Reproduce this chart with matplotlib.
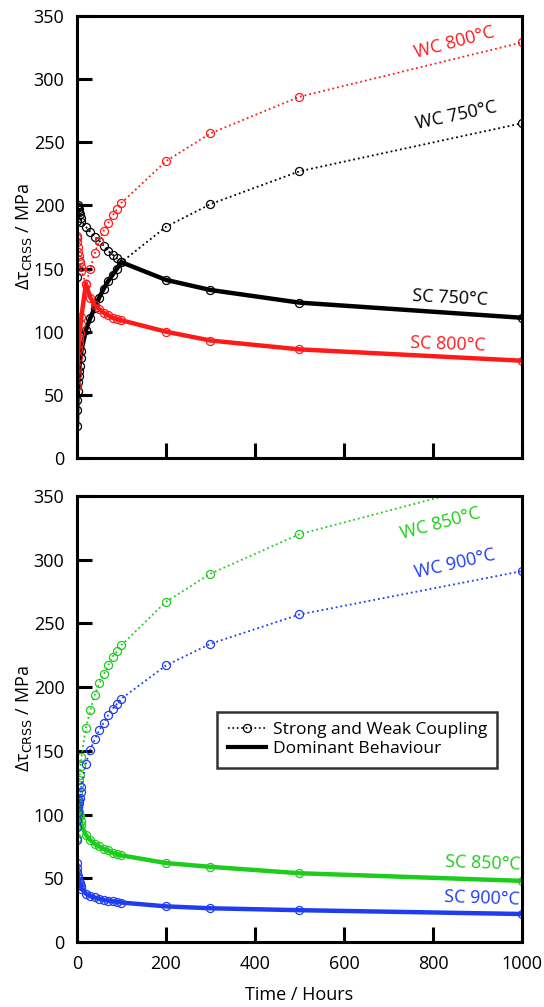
import numpy as np
import matplotlib
matplotlib.use('Agg')
import matplotlib.pyplot as plt
from matplotlib.lines import Line2D

plt.rcParams['font.family'] = ['Open Sans', 'DejaVu Sans']

# time points (hours)
hours = [0.1, 0.5, 1, 2, 3, 4, 5, 6, 8, 10, 20, 30, 40, 50, 60, 70, 80, 90, 100,
         200, 300, 500, 1000]

# weak coupling (WC) and strong coupling (SC), MPa
wc_750 = [25, 38, 46, 53, 60, 65, 69, 73, 79, 85, 101, 111, 119, 127, 134, 140, 145,
          150, 155, 183, 201, 227, 265]
sc_750 = [143, 188, 198, 200, 199, 197, 195, 193, 190, 187, 183, 179, 175, 172, 168,
          164, 161, 158, 155, 141, 133, 123, 111]
wc_800 = [57, 66, 72, 80, 86, 91, 95, 99, 106, 112, 138, 150, 162, 172, 180, 186, 192,
          197, 202, 235, 257, 286, 329]
sc_800 = [176, 174, 171, 167, 163, 160, 157, 155, 151, 148, 138, 127, 121, 118, 115,
          113, 111, 110, 109, 100, 93, 86, 77]
wc_850 = [82, 95, 103, 112, 118, 123, 127, 131, 138, 145, 168, 182, 194, 203, 210, 217,
          224, 228, 233, 267, 289, 320, 366]
sc_850 = [110, 109, 108, 106, 104, 102, 100, 99, 95, 92, 84, 80, 77, 75, 73, 72, 70,
          69, 68, 62, 59, 54, 48]
wc_900 = [80, 90, 96, 102, 106, 109, 111, 113, 118, 122, 140, 151, 159, 166, 172, 178,
          183, 187, 191, 217, 234, 257, 291]
sc_900 = [62, 58, 55, 52, 50, 48, 47, 46, 44, 42, 38, 36, 35, 34, 33, 32.5, 32, 31.5,
          31, 28, 26.5, 25, 22]

RED = '#ff1a1a'
BLACK = '#000000'
GREEN = '#1ecc1e'
BLUE = '#1f3cf0'

fig = plt.figure(figsize=(5.44, 10.07), dpi=100)
ax1 = fig.add_axes([0.1415, 0.5452, 0.818, 0.439])
ax2 = fig.add_axes([0.1415, 0.0645, 0.818, 0.443])


def draw_pair(ax, wc, sc, col):
    ax.plot(hours, wc, ':', color=col, lw=1.3, marker='o', ms=5.8, mfc='none',
            mew=0.9)
    ax.plot(hours, sc, ':', color=col, lw=1.3, marker='o', ms=5.8, mfc='none',
            mew=0.9)
    ax.plot(hours, np.minimum(wc, sc), '-', color=col, lw=3.2,
            solid_capstyle='butt')


draw_pair(ax1, wc_750, sc_750, BLACK)
draw_pair(ax1, wc_800, sc_800, RED)
draw_pair(ax2, wc_850, sc_850, GREEN)
draw_pair(ax2, wc_900, sc_900, BLUE)

for ax in (ax1, ax2):
    ax.set_xlim(0, 1000)
    ax.set_ylim(0, 350)
    ax.set_yticks(np.arange(0, 351, 50))
    ax.set_xticks(np.arange(0, 1001, 200))
    ax.tick_params(axis='both', direction='in', length=11, width=2.2,
                   labelsize=13, pad=9)
    for sp in ax.spines.values():
        sp.set_linewidth(2.2)
    ax.set_ylabel('Δτ$_{\\mathrm{CRSS}}$ / MPa', fontsize=13, labelpad=0)

ax1.tick_params(axis='x', labelbottom=False)
ax2.set_xlabel('Time / Hours', fontsize=13, labelpad=10)

fs = 13
ax1.text(849, 329, 'WC 800°C', color=RED, fontsize=fs, rotation=15,
         ha='center', va='center')
ax1.text(852, 271, 'WC 750°C', color=BLACK, fontsize=fs, rotation=12,
         ha='center', va='center')
ax1.text(838, 127, 'SC 750°C', color=BLACK, fontsize=fs, rotation=-3,
         ha='center', va='center')
ax1.text(834, 90, 'SC 800°C', color=RED, fontsize=fs, rotation=-2,
         ha='center', va='center')
ax2.text(816, 328, 'WC 850°C', color=GREEN, fontsize=fs, rotation=15,
         ha='center', va='center')
ax2.text(849, 297, 'WC 900°C', color=BLUE, fontsize=fs, rotation=13,
         ha='center', va='center')
ax2.text(912, 62, 'SC 850°C', color=GREEN, fontsize=fs, rotation=-2,
         ha='center', va='center')
ax2.text(910, 34, 'SC 900°C', color=BLUE, fontsize=fs, rotation=-2,
         ha='center', va='center')

handles = [Line2D([], [], ls=':', color='black', lw=1.2, marker='o', ms=5.8,
                  mfc='none', mew=0.9),
           Line2D([], [], ls='-', color='black', lw=3)]
leg = ax2.legend(handles, ['Strong and Weak Coupling', 'Dominant Behaviour'],
                 loc='upper left', bbox_to_anchor=(0.315, 0.516),
                 borderaxespad=0, fontsize=12.5, frameon=True, fancybox=False,
                 handlelength=2.2, handletextpad=0.4, labelspacing=0.15,
                 borderpad=0.6)
leg.get_frame().set_edgecolor('black')
leg.get_frame().set_linewidth(1.8)

fig.savefig('out.png', dpi=100)
